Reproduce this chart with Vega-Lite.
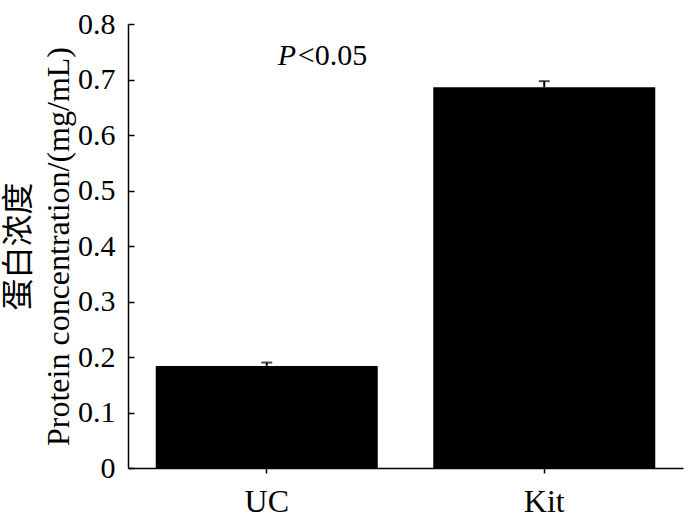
{
  "$schema": "https://vega.github.io/schema/vega-lite/v6.json",
  "autosize": {"type": "none"},
  "width": 555,
  "height": 444,
  "padding": {"left": 128, "top": 24, "right": 17, "bottom": 53},
  "background": "white",
  "config": {
    "view": {"stroke": null},
    "font": "Liberation Serif",
    "axis": {
      "domainColor": "black",
      "domainWidth": 1.5,
      "tickColor": "black",
      "tickWidth": 1.5,
      "labelColor": "black",
      "titleColor": "black",
      "labelFont": "Liberation Serif",
      "grid": false
    }
  },
  "datasets": {
    "bars": [
      {"group": "UC", "value": 0.184, "upper": 0.19},
      {"group": "Kit", "value": 0.686, "upper": 0.697}
    ],
    "notes": [
      {"group": "UC", "y": 0.726, "label": "P", "part": "p"},
      {"group": "UC", "y": 0.726, "label": "<0.05", "part": "rest"}
    ]
  },
  "layer": [
    {
      "data": {"name": "bars"},
      "mark": {"type": "bar", "color": "black"},
      "encoding": {
        "x": {
          "field": "group",
          "type": "nominal",
          "sort": ["UC", "Kit"],
          "scale": {"paddingInner": 0.2, "paddingOuter": 0.1},
          "axis": {
            "title": null,
            "labelAngle": 0,
            "labelFont": "Liberation Serif",
            "labelFontSize": 32,
            "tickSize": 5,
            "labelPadding": 13
          }
        },
        "y": {
          "field": "value",
          "type": "quantitative",
          "scale": {"domain": [0, 0.8], "nice": false},
          "axis": {
            "values": [0, 0.1, 0.2, 0.3, 0.4, 0.5, 0.6, 0.7, 0.8],
            "labelExpr": "datum.value == 0 ? '0' : format(datum.value, '.1f')",
            "labelFont": "Liberation Serif",
            "labelFontSize": 30,
            "tickSize": -6,
            "labelPadding": 19,
            "title": ["蛋白浓度", "Protein concentration/(mg/mL)"],
            "titleFont": "Liberation Serif, Noto Sans CJK SC",
            "titleFontSize": 32,
            "titleFontWeight": "normal",
            "titleLineHeight": 40,
            "titlePadding": 2
          }
        }
      }
    },
    {
      "data": {"name": "bars"},
      "mark": {"type": "rule", "color": "black", "strokeWidth": 2},
      "encoding": {
        "x": {"field": "group", "type": "nominal", "sort": ["UC", "Kit"]},
        "y": {"field": "value", "type": "quantitative"},
        "y2": {"field": "upper"}
      }
    },
    {
      "data": {"name": "bars"},
      "mark": {"type": "tick", "color": "black", "thickness": 2, "size": 11},
      "encoding": {
        "x": {"field": "group", "type": "nominal", "sort": ["UC", "Kit"]},
        "y": {"field": "upper", "type": "quantitative"}
      }
    },
    {
      "data": {"name": "notes"},
      "transform": [{"filter": "datum.part == 'p'"}],
      "mark": {"type": "text", "align": "left", "baseline": "alphabetic", "dx": 11, "font": "Liberation Serif", "fontSize": 30, "fontStyle": "italic", "color": "black"},
      "encoding": {
        "x": {"field": "group", "type": "nominal", "sort": ["UC", "Kit"]},
        "y": {"field": "y", "type": "quantitative"},
        "text": {"field": "label"}
      }
    },
    {
      "data": {"name": "notes"},
      "transform": [{"filter": "datum.part == 'rest'"}],
      "mark": {"type": "text", "align": "left", "baseline": "alphabetic", "dx": 31, "font": "Liberation Serif", "fontSize": 30, "color": "black"},
      "encoding": {
        "x": {"field": "group", "type": "nominal", "sort": ["UC", "Kit"]},
        "y": {"field": "y", "type": "quantitative"},
        "text": {"field": "label"}
      }
    }
  ]
}
